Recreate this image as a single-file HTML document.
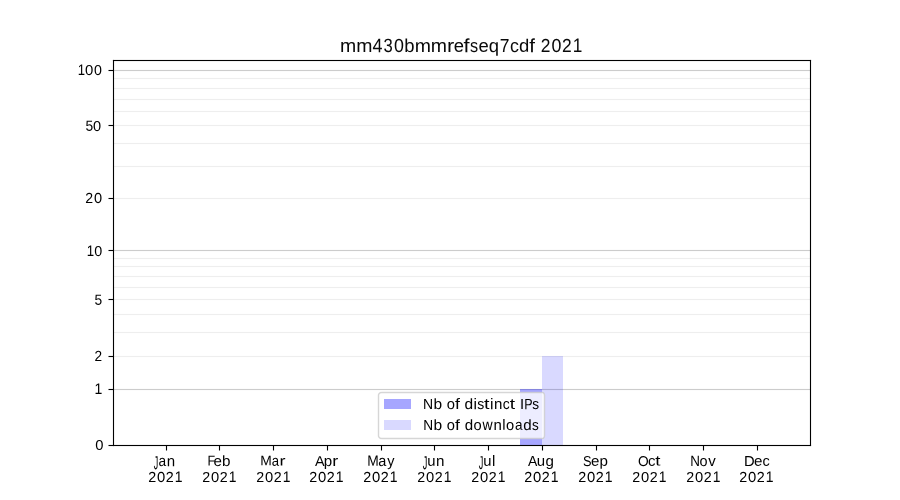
<!DOCTYPE html>
<html><head><meta charset="utf-8"><title>mm430bmmrefseq7cdf 2021</title><style>html,body{margin:0;padding:0;background:#fff;width:900px;height:500px;overflow:hidden;}svg{display:block;will-change:transform;}text{font-family:"Liberation Sans", sans-serif;fill:#000;}</style></head><body>
<svg width="900" height="500" viewBox="0 0 900 500">
<rect x="0" y="0" width="900" height="500" fill="#fff"/>
<g shape-rendering="crispEdges">
<rect x="113" y="70" width="697" height="1" fill="#ccc"/>
<rect x="113" y="69" width="697" height="1" fill="#ccc" fill-opacity="0.055"/>
<rect x="113" y="71" width="697" height="1" fill="#ccc" fill-opacity="0.055"/>
<rect x="113" y="250" width="697" height="1" fill="#ccc"/>
<rect x="113" y="249" width="697" height="1" fill="#ccc" fill-opacity="0.055"/>
<rect x="113" y="251" width="697" height="1" fill="#ccc" fill-opacity="0.055"/>
<rect x="113" y="389" width="697" height="1" fill="#ccc"/>
<rect x="113" y="388" width="697" height="1" fill="#ccc" fill-opacity="0.055"/>
<rect x="113" y="390" width="697" height="1" fill="#ccc" fill-opacity="0.055"/>
<rect x="113" y="78" width="697" height="1" fill="#eee"/>
<rect x="113" y="77" width="697" height="1" fill="#eee" fill-opacity="0.055"/>
<rect x="113" y="79" width="697" height="1" fill="#eee" fill-opacity="0.055"/>
<rect x="113" y="88" width="697" height="1" fill="#eee"/>
<rect x="113" y="87" width="697" height="1" fill="#eee" fill-opacity="0.055"/>
<rect x="113" y="89" width="697" height="1" fill="#eee" fill-opacity="0.055"/>
<rect x="113" y="99" width="697" height="1" fill="#eee"/>
<rect x="113" y="98" width="697" height="1" fill="#eee" fill-opacity="0.055"/>
<rect x="113" y="100" width="697" height="1" fill="#eee" fill-opacity="0.055"/>
<rect x="113" y="111" width="697" height="1" fill="#eee"/>
<rect x="113" y="110" width="697" height="1" fill="#eee" fill-opacity="0.055"/>
<rect x="113" y="112" width="697" height="1" fill="#eee" fill-opacity="0.055"/>
<rect x="113" y="125" width="697" height="1" fill="#eee"/>
<rect x="113" y="124" width="697" height="1" fill="#eee" fill-opacity="0.055"/>
<rect x="113" y="126" width="697" height="1" fill="#eee" fill-opacity="0.055"/>
<rect x="113" y="143" width="697" height="1" fill="#eee"/>
<rect x="113" y="142" width="697" height="1" fill="#eee" fill-opacity="0.055"/>
<rect x="113" y="144" width="697" height="1" fill="#eee" fill-opacity="0.055"/>
<rect x="113" y="166" width="697" height="1" fill="#eee"/>
<rect x="113" y="165" width="697" height="1" fill="#eee" fill-opacity="0.055"/>
<rect x="113" y="167" width="697" height="1" fill="#eee" fill-opacity="0.055"/>
<rect x="113" y="198" width="697" height="1" fill="#eee"/>
<rect x="113" y="197" width="697" height="1" fill="#eee" fill-opacity="0.055"/>
<rect x="113" y="199" width="697" height="1" fill="#eee" fill-opacity="0.055"/>
<rect x="113" y="258" width="697" height="1" fill="#eee"/>
<rect x="113" y="257" width="697" height="1" fill="#eee" fill-opacity="0.055"/>
<rect x="113" y="259" width="697" height="1" fill="#eee" fill-opacity="0.055"/>
<rect x="113" y="266" width="697" height="1" fill="#eee"/>
<rect x="113" y="265" width="697" height="1" fill="#eee" fill-opacity="0.055"/>
<rect x="113" y="267" width="697" height="1" fill="#eee" fill-opacity="0.055"/>
<rect x="113" y="276" width="697" height="1" fill="#eee"/>
<rect x="113" y="275" width="697" height="1" fill="#eee" fill-opacity="0.055"/>
<rect x="113" y="277" width="697" height="1" fill="#eee" fill-opacity="0.055"/>
<rect x="113" y="287" width="697" height="1" fill="#eee"/>
<rect x="113" y="286" width="697" height="1" fill="#eee" fill-opacity="0.055"/>
<rect x="113" y="288" width="697" height="1" fill="#eee" fill-opacity="0.055"/>
<rect x="113" y="299" width="697" height="1" fill="#eee"/>
<rect x="113" y="298" width="697" height="1" fill="#eee" fill-opacity="0.055"/>
<rect x="113" y="300" width="697" height="1" fill="#eee" fill-opacity="0.055"/>
<rect x="113" y="314" width="697" height="1" fill="#eee"/>
<rect x="113" y="313" width="697" height="1" fill="#eee" fill-opacity="0.055"/>
<rect x="113" y="315" width="697" height="1" fill="#eee" fill-opacity="0.055"/>
<rect x="113" y="332" width="697" height="1" fill="#eee"/>
<rect x="113" y="331" width="697" height="1" fill="#eee" fill-opacity="0.055"/>
<rect x="113" y="333" width="697" height="1" fill="#eee" fill-opacity="0.055"/>
<rect x="113" y="356" width="697" height="1" fill="#eee"/>
<rect x="113" y="355" width="697" height="1" fill="#eee" fill-opacity="0.055"/>
<rect x="113" y="357" width="697" height="1" fill="#eee" fill-opacity="0.055"/>
<rect x="520" y="389" width="22" height="56" fill="#00f" fill-opacity="0.35"/>
<rect x="542" y="356" width="21" height="89" fill="#00f" fill-opacity="0.15"/>
<rect x="113" y="60" width="698" height="1" fill="#000"/>
<rect x="113" y="445" width="698" height="1" fill="#000"/>
<rect x="113" y="60" width="1" height="386" fill="#000"/>
<rect x="810" y="60" width="1" height="386" fill="#000"/>
<g fill="#000" fill-opacity="0.055">
<rect x="112" y="59" width="700" height="1"/><rect x="114" y="61" width="696" height="1"/>
<rect x="114" y="444" width="696" height="1"/><rect x="112" y="446" width="700" height="1"/>
<rect x="112" y="60" width="1" height="386"/><rect x="114" y="62" width="1" height="382"/>
<rect x="809" y="62" width="1" height="382"/><rect x="811" y="60" width="1" height="386"/>
</g>
<rect x="109" y="445" width="4" height="1" fill="#000"/>
<rect x="108" y="445" width="1" height="1" fill="#000" fill-opacity="0.5"/>
<rect x="109" y="389" width="4" height="1" fill="#000"/>
<rect x="108" y="389" width="1" height="1" fill="#000" fill-opacity="0.5"/>
<rect x="109" y="388" width="3" height="1" fill="#000" fill-opacity="0.055"/>
<rect x="109" y="390" width="3" height="1" fill="#000" fill-opacity="0.055"/>
<rect x="108" y="388" width="1" height="1" fill="#000" fill-opacity="0.028"/>
<rect x="108" y="390" width="1" height="1" fill="#000" fill-opacity="0.028"/>
<rect x="109" y="356" width="4" height="1" fill="#000"/>
<rect x="108" y="356" width="1" height="1" fill="#000" fill-opacity="0.5"/>
<rect x="109" y="355" width="3" height="1" fill="#000" fill-opacity="0.055"/>
<rect x="109" y="357" width="3" height="1" fill="#000" fill-opacity="0.055"/>
<rect x="108" y="355" width="1" height="1" fill="#000" fill-opacity="0.028"/>
<rect x="108" y="357" width="1" height="1" fill="#000" fill-opacity="0.028"/>
<rect x="109" y="299" width="4" height="1" fill="#000"/>
<rect x="108" y="299" width="1" height="1" fill="#000" fill-opacity="0.5"/>
<rect x="109" y="298" width="3" height="1" fill="#000" fill-opacity="0.055"/>
<rect x="109" y="300" width="3" height="1" fill="#000" fill-opacity="0.055"/>
<rect x="108" y="298" width="1" height="1" fill="#000" fill-opacity="0.028"/>
<rect x="108" y="300" width="1" height="1" fill="#000" fill-opacity="0.028"/>
<rect x="109" y="250" width="4" height="1" fill="#000"/>
<rect x="108" y="250" width="1" height="1" fill="#000" fill-opacity="0.5"/>
<rect x="109" y="249" width="3" height="1" fill="#000" fill-opacity="0.055"/>
<rect x="109" y="251" width="3" height="1" fill="#000" fill-opacity="0.055"/>
<rect x="108" y="249" width="1" height="1" fill="#000" fill-opacity="0.028"/>
<rect x="108" y="251" width="1" height="1" fill="#000" fill-opacity="0.028"/>
<rect x="109" y="198" width="4" height="1" fill="#000"/>
<rect x="108" y="198" width="1" height="1" fill="#000" fill-opacity="0.5"/>
<rect x="109" y="197" width="3" height="1" fill="#000" fill-opacity="0.055"/>
<rect x="109" y="199" width="3" height="1" fill="#000" fill-opacity="0.055"/>
<rect x="108" y="197" width="1" height="1" fill="#000" fill-opacity="0.028"/>
<rect x="108" y="199" width="1" height="1" fill="#000" fill-opacity="0.028"/>
<rect x="109" y="125" width="4" height="1" fill="#000"/>
<rect x="108" y="125" width="1" height="1" fill="#000" fill-opacity="0.5"/>
<rect x="109" y="124" width="3" height="1" fill="#000" fill-opacity="0.055"/>
<rect x="109" y="126" width="3" height="1" fill="#000" fill-opacity="0.055"/>
<rect x="108" y="124" width="1" height="1" fill="#000" fill-opacity="0.028"/>
<rect x="108" y="126" width="1" height="1" fill="#000" fill-opacity="0.028"/>
<rect x="109" y="70" width="4" height="1" fill="#000"/>
<rect x="108" y="70" width="1" height="1" fill="#000" fill-opacity="0.5"/>
<rect x="109" y="69" width="3" height="1" fill="#000" fill-opacity="0.055"/>
<rect x="109" y="71" width="3" height="1" fill="#000" fill-opacity="0.055"/>
<rect x="108" y="69" width="1" height="1" fill="#000" fill-opacity="0.028"/>
<rect x="108" y="71" width="1" height="1" fill="#000" fill-opacity="0.028"/>
<rect x="166" y="446" width="1" height="4" fill="#000"/>
<rect x="166" y="450" width="1" height="1" fill="#000" fill-opacity="0.5"/>
<rect x="165" y="446" width="1" height="4" fill="#000" fill-opacity="0.055"/>
<rect x="167" y="446" width="1" height="4" fill="#000" fill-opacity="0.055"/>
<rect x="165" y="450" width="1" height="1" fill="#000" fill-opacity="0.028"/>
<rect x="167" y="450" width="1" height="1" fill="#000" fill-opacity="0.028"/>
<rect x="219" y="446" width="1" height="4" fill="#000"/>
<rect x="219" y="450" width="1" height="1" fill="#000" fill-opacity="0.5"/>
<rect x="218" y="446" width="1" height="4" fill="#000" fill-opacity="0.055"/>
<rect x="220" y="446" width="1" height="4" fill="#000" fill-opacity="0.055"/>
<rect x="218" y="450" width="1" height="1" fill="#000" fill-opacity="0.028"/>
<rect x="220" y="450" width="1" height="1" fill="#000" fill-opacity="0.028"/>
<rect x="273" y="446" width="1" height="4" fill="#000"/>
<rect x="273" y="450" width="1" height="1" fill="#000" fill-opacity="0.5"/>
<rect x="272" y="446" width="1" height="4" fill="#000" fill-opacity="0.055"/>
<rect x="274" y="446" width="1" height="4" fill="#000" fill-opacity="0.055"/>
<rect x="272" y="450" width="1" height="1" fill="#000" fill-opacity="0.028"/>
<rect x="274" y="450" width="1" height="1" fill="#000" fill-opacity="0.028"/>
<rect x="327" y="446" width="1" height="4" fill="#000"/>
<rect x="327" y="450" width="1" height="1" fill="#000" fill-opacity="0.5"/>
<rect x="326" y="446" width="1" height="4" fill="#000" fill-opacity="0.055"/>
<rect x="328" y="446" width="1" height="4" fill="#000" fill-opacity="0.055"/>
<rect x="326" y="450" width="1" height="1" fill="#000" fill-opacity="0.028"/>
<rect x="328" y="450" width="1" height="1" fill="#000" fill-opacity="0.028"/>
<rect x="381" y="446" width="1" height="4" fill="#000"/>
<rect x="381" y="450" width="1" height="1" fill="#000" fill-opacity="0.5"/>
<rect x="380" y="446" width="1" height="4" fill="#000" fill-opacity="0.055"/>
<rect x="382" y="446" width="1" height="4" fill="#000" fill-opacity="0.055"/>
<rect x="380" y="450" width="1" height="1" fill="#000" fill-opacity="0.028"/>
<rect x="382" y="450" width="1" height="1" fill="#000" fill-opacity="0.028"/>
<rect x="434" y="446" width="1" height="4" fill="#000"/>
<rect x="434" y="450" width="1" height="1" fill="#000" fill-opacity="0.5"/>
<rect x="433" y="446" width="1" height="4" fill="#000" fill-opacity="0.055"/>
<rect x="435" y="446" width="1" height="4" fill="#000" fill-opacity="0.055"/>
<rect x="433" y="450" width="1" height="1" fill="#000" fill-opacity="0.028"/>
<rect x="435" y="450" width="1" height="1" fill="#000" fill-opacity="0.028"/>
<rect x="488" y="446" width="1" height="4" fill="#000"/>
<rect x="488" y="450" width="1" height="1" fill="#000" fill-opacity="0.5"/>
<rect x="487" y="446" width="1" height="4" fill="#000" fill-opacity="0.055"/>
<rect x="489" y="446" width="1" height="4" fill="#000" fill-opacity="0.055"/>
<rect x="487" y="450" width="1" height="1" fill="#000" fill-opacity="0.028"/>
<rect x="489" y="450" width="1" height="1" fill="#000" fill-opacity="0.028"/>
<rect x="542" y="446" width="1" height="4" fill="#000"/>
<rect x="542" y="450" width="1" height="1" fill="#000" fill-opacity="0.5"/>
<rect x="541" y="446" width="1" height="4" fill="#000" fill-opacity="0.055"/>
<rect x="543" y="446" width="1" height="4" fill="#000" fill-opacity="0.055"/>
<rect x="541" y="450" width="1" height="1" fill="#000" fill-opacity="0.028"/>
<rect x="543" y="450" width="1" height="1" fill="#000" fill-opacity="0.028"/>
<rect x="596" y="446" width="1" height="4" fill="#000"/>
<rect x="596" y="450" width="1" height="1" fill="#000" fill-opacity="0.5"/>
<rect x="595" y="446" width="1" height="4" fill="#000" fill-opacity="0.055"/>
<rect x="597" y="446" width="1" height="4" fill="#000" fill-opacity="0.055"/>
<rect x="595" y="450" width="1" height="1" fill="#000" fill-opacity="0.028"/>
<rect x="597" y="450" width="1" height="1" fill="#000" fill-opacity="0.028"/>
<rect x="649" y="446" width="1" height="4" fill="#000"/>
<rect x="649" y="450" width="1" height="1" fill="#000" fill-opacity="0.5"/>
<rect x="648" y="446" width="1" height="4" fill="#000" fill-opacity="0.055"/>
<rect x="650" y="446" width="1" height="4" fill="#000" fill-opacity="0.055"/>
<rect x="648" y="450" width="1" height="1" fill="#000" fill-opacity="0.028"/>
<rect x="650" y="450" width="1" height="1" fill="#000" fill-opacity="0.028"/>
<rect x="703" y="446" width="1" height="4" fill="#000"/>
<rect x="703" y="450" width="1" height="1" fill="#000" fill-opacity="0.5"/>
<rect x="702" y="446" width="1" height="4" fill="#000" fill-opacity="0.055"/>
<rect x="704" y="446" width="1" height="4" fill="#000" fill-opacity="0.055"/>
<rect x="702" y="450" width="1" height="1" fill="#000" fill-opacity="0.028"/>
<rect x="704" y="450" width="1" height="1" fill="#000" fill-opacity="0.028"/>
<rect x="757" y="446" width="1" height="4" fill="#000"/>
<rect x="757" y="450" width="1" height="1" fill="#000" fill-opacity="0.5"/>
<rect x="756" y="446" width="1" height="4" fill="#000" fill-opacity="0.055"/>
<rect x="758" y="446" width="1" height="4" fill="#000" fill-opacity="0.055"/>
<rect x="756" y="450" width="1" height="1" fill="#000" fill-opacity="0.028"/>
<rect x="758" y="450" width="1" height="1" fill="#000" fill-opacity="0.028"/>
</g>
<rect x="378.5" y="392.5" width="166" height="46" rx="2.78" ry="2.78" fill="#fff" fill-opacity="0.8" stroke="#ccc" stroke-opacity="0.8" stroke-width="1.39"/>
<g shape-rendering="crispEdges"><rect x="384" y="399" width="27" height="10" fill="#00f" fill-opacity="0.35"/>
<rect x="384" y="420" width="27" height="10" fill="#00f" fill-opacity="0.15"/></g>
<g shape-rendering="crispEdges">
<rect x="112" y="59" width="1" height="1" fill="#fdfdfd"/>
<rect x="113" y="59" width="1" height="1" fill="#e3e3e3"/>
<rect x="810" y="59" width="1" height="1" fill="#e3e3e3"/>
<rect x="811" y="59" width="1" height="1" fill="#fdfdfd"/>
<rect x="112" y="60" width="1" height="1" fill="#e3e3e3"/>
<rect x="811" y="60" width="1" height="1" fill="#e3e3e3"/>
<rect x="114" y="61" width="1" height="1" fill="#e3e3e3"/>
<rect x="809" y="61" width="1" height="1" fill="#e3e3e3"/>
<rect x="112" y="69" width="1" height="1" fill="#e3e3e3"/>
<rect x="112" y="71" width="1" height="1" fill="#e3e3e3"/>
<rect x="112" y="124" width="1" height="1" fill="#e3e3e3"/>
<rect x="112" y="126" width="1" height="1" fill="#e3e3e3"/>
<rect x="112" y="197" width="1" height="1" fill="#e3e3e3"/>
<rect x="112" y="199" width="1" height="1" fill="#e3e3e3"/>
<rect x="112" y="249" width="1" height="1" fill="#e3e3e3"/>
<rect x="112" y="251" width="1" height="1" fill="#e3e3e3"/>
<rect x="112" y="298" width="1" height="1" fill="#e3e3e3"/>
<rect x="112" y="300" width="1" height="1" fill="#e3e3e3"/>
<rect x="112" y="355" width="1" height="1" fill="#e3e3e3"/>
<rect x="112" y="357" width="1" height="1" fill="#e3e3e3"/>
<rect x="112" y="388" width="1" height="1" fill="#e3e3e3"/>
<rect x="112" y="390" width="1" height="1" fill="#e3e3e3"/>
<rect x="381" y="391" width="1" height="1" fill="#f7f7f7"/>
<rect x="541" y="391" width="1" height="1" fill="#ababf7"/>
<rect x="542" y="391" width="1" height="1" fill="#d7d7f7"/>
<rect x="378" y="392" width="1" height="1" fill="#fefefe"/>
<rect x="379" y="392" width="1" height="1" fill="#e6e6e6"/>
<rect x="544" y="392" width="1" height="1" fill="#d7d7f9"/>
<rect x="378" y="393" width="1" height="1" fill="#e6e6e6"/>
<rect x="379" y="393" width="1" height="1" fill="#d6d6d6"/>
<rect x="541" y="393" width="1" height="1" fill="#e6e6f7"/>
<rect x="542" y="393" width="1" height="1" fill="#eeeef5"/>
<rect x="544" y="393" width="1" height="1" fill="#d1d1e0"/>
<rect x="543" y="394" width="1" height="1" fill="#ebebf0"/>
<rect x="543" y="436" width="1" height="1" fill="#ebebf0"/>
<rect x="378" y="437" width="1" height="1" fill="#e6e6e6"/>
<rect x="379" y="437" width="1" height="1" fill="#d6d6d6"/>
<rect x="541" y="437" width="1" height="1" fill="#e6e6f7"/>
<rect x="542" y="437" width="1" height="1" fill="#eeeef5"/>
<rect x="378" y="438" width="1" height="1" fill="#fefefe"/>
<rect x="379" y="438" width="1" height="1" fill="#e6e6e6"/>
<rect x="543" y="438" width="1" height="1" fill="#d0d0d8"/>
<rect x="381" y="439" width="1" height="1" fill="#f7f7f7"/>
<rect x="541" y="439" width="1" height="1" fill="#ababf7"/>
<rect x="542" y="439" width="1" height="1" fill="#d7d7f7"/>
<rect x="108" y="444" width="1" height="1" fill="#f8f8f8"/>
<rect x="109" y="444" width="1" height="1" fill="#f1f1f1"/>
<rect x="110" y="444" width="1" height="1" fill="#f1f1f1"/>
<rect x="111" y="444" width="1" height="1" fill="#f1f1f1"/>
<rect x="112" y="444" width="1" height="1" fill="#e2e2e2"/>
<rect x="114" y="444" width="1" height="1" fill="#e3e3e3"/>
<rect x="809" y="444" width="1" height="1" fill="#e3e3e3"/>
<rect x="811" y="445" width="1" height="1" fill="#e3e3e3"/>
<rect x="108" y="446" width="1" height="1" fill="#f8f8f8"/>
<rect x="109" y="446" width="1" height="1" fill="#f1f1f1"/>
<rect x="110" y="446" width="1" height="1" fill="#f1f1f1"/>
<rect x="111" y="446" width="1" height="1" fill="#f1f1f1"/>
<rect x="113" y="446" width="1" height="1" fill="#dddddd"/>
<rect x="810" y="446" width="1" height="1" fill="#e3e3e3"/>
<rect x="811" y="446" width="1" height="1" fill="#fdfdfd"/>
</g>
<g aria-label="mm430bmmrefseq7cdf 2021">
<text font-size="16.67" style="fill:#090909" transform="matrix(1.16845 0.001 0 1.12968 340.056 51.979)">m</text>
<text font-size="16.67" style="fill:#090909" transform="matrix(1.16845 0.001 0 1.12968 356.306 51.979)">m</text>
<text font-size="16.67" style="fill:#090909" transform="matrix(1.07427 0.001 0 1.17487 372.493 52.229)">4</text>
<text font-size="16.67" style="fill:#090909" transform="matrix(0.99754 0.001 0 1.14775 383.574 51.879)">3</text>
<text font-size="16.67" style="fill:#090909" transform="matrix(1.07018 0.001 0 1.12968 393.963 51.979)">0</text>
<text font-size="16.67" style="fill:#090909" transform="matrix(1.10983 0.001 0 1.12968 404.345 51.979)">b</text>
<text font-size="16.67" style="fill:#090909" transform="matrix(1.16845 0.001 0 1.10257 414.681 51.979)">m</text>
<text font-size="16.67" style="fill:#090909" transform="matrix(1.16845 0.001 0 1.12968 430.681 51.979)">m</text>
<text font-size="16.67" style="fill:#090909" transform="matrix(1.30534 0.001 0 1.12968 446.876 51.979)">r</text>
<text font-size="16.67" style="fill:#090909" transform="matrix(1.10659 0.001 0 1.08449 453.625 51.679)">e</text>
<text font-size="16.67" style="fill:#090909" transform="matrix(1.30626 0.001 0 1.15679 463.622 52.229)">f</text>
<text font-size="16.67" style="fill:#090909" transform="matrix(0.97734 0.001 0 1.12968 469.911 51.979)">s</text>
<text font-size="16.67" style="fill:#090909" transform="matrix(1.10659 0.001 0 1.08449 478.500 51.679)">e</text>
<text font-size="16.67" style="fill:#090909" transform="matrix(1.10863 0.001 0 1.10257 488.761 51.979)">q</text>
<text font-size="16.67" style="fill:#090909" transform="matrix(1.04724 0.001 0 1.12968 499.647 51.979)">7</text>
<text font-size="16.67" style="fill:#090909" transform="matrix(1.07523 0.001 0 1.12968 510.073 51.979)">c</text>
<text font-size="16.67" style="fill:#090909" transform="matrix(1.10983 0.001 0 1.07545 518.885 51.729)">d</text>
<text font-size="16.67" style="fill:#090909" transform="matrix(1.23893 0.001 0 1.15679 529.272 52.229)">f</text>
<text font-size="16.67" style="fill:#090909" transform="matrix(1.04500 0.001 0 1.12968 540.791 51.979)">2</text>
<text font-size="16.67" style="fill:#090909" transform="matrix(1.07018 0.001 0 1.12968 551.463 51.979)">0</text>
<text font-size="16.67" style="fill:#090909" transform="matrix(1.04500 0.001 0 1.12968 561.916 51.979)">2</text>
<text font-size="16.67" style="fill:#090909" transform="matrix(1.03293 0.001 0 1.17487 572.736 51.879)">1</text>
</g>
<g aria-label="0">
<text font-size="13.89" transform="matrix(1.06389 0.001 0 1.00098 95.243 449.640)">0</text>
</g>
<g aria-label="1">
<text font-size="13.89" transform="matrix(1.01232 0.001 0 1.11205 94.482 393.989)">1</text>
</g>
<g aria-label="2">
<text font-size="13.89" transform="matrix(0.98328 0.001 0 1.05273 94.539 360.936)">2</text>
</g>
<g aria-label="5">
<text font-size="13.89" transform="matrix(0.99270 0.001 0 1.05710 94.535 304.667)">5</text>
</g>
<g aria-label="10">
<text font-size="13.89" transform="matrix(0.95309 0.001 0 1.11318 86.644 255.931)">1</text>
<text font-size="13.89" transform="matrix(1.03547 0.001 0 1.02755 94.335 255.931)">0</text>
</g>
<g aria-label="20">
<text font-size="13.89" transform="matrix(1.01616 0.001 0 1.04870 85.132 202.894)">2</text>
<text font-size="13.89" transform="matrix(1.05386 0.001 0 1.04870 93.893 202.894)">0</text>
</g>
<g aria-label="50">
<text font-size="13.89" transform="matrix(0.99428 0.001 0 1.05950 85.569 130.763)">5</text>
<text font-size="13.89" transform="matrix(1.05253 0.001 0 1.03407 93.112 131.013)">0</text>
</g>
<g aria-label="100">
<text font-size="13.89" transform="matrix(0.94509 0.001 0 1.10327 77.646 74.972)">1</text>
<text font-size="13.89" transform="matrix(1.07498 0.001 0 1.03691 85.034 74.922)">0</text>
<text font-size="13.89" transform="matrix(1.02521 0.001 0 1.03691 94.084 74.922)">0</text>
</g>
<g aria-label="Jan">
<text font-size="13.89" transform="matrix(0.64833 0.001 0 1.35860 153.667 469.244)">J</text>
<text font-size="13.89" transform="matrix(0.98743 0.001 0 1.10816 158.593 466.094)">a</text>
<text font-size="13.89" transform="matrix(1.08781 0.001 0 1.10816 166.688 466.344)">n</text>
</g>
<g aria-label="2021">
<text font-size="13.89" transform="matrix(1.03164 0.001 0 1.04626 148.257 481.910)">2</text>
<text font-size="13.89" transform="matrix(1.06991 0.001 0 1.04626 157.016 482.060)">0</text>
<text font-size="13.89" transform="matrix(1.03164 0.001 0 1.04626 165.757 482.060)">2</text>
<text font-size="13.89" transform="matrix(1.00552 0.001 0 1.11322 174.697 482.060)">1</text>
</g>
<g aria-label="Feb">
<text font-size="13.89" transform="matrix(0.90540 0.001 0 1.02717 207.409 465.395)">F</text>
<text font-size="13.89" transform="matrix(1.08983 0.001 0 1.06997 213.460 465.945)">e</text>
<text font-size="13.89" transform="matrix(1.09690 0.001 0 1.06997 222.022 466.095)">b</text>
</g>
<g aria-label="2021">
<text font-size="13.89" transform="matrix(1.02358 0.001 0 1.04375 202.291 482.059)">2</text>
<text font-size="13.89" transform="matrix(1.06155 0.001 0 1.04375 211.050 482.059)">0</text>
<text font-size="13.89" transform="matrix(1.02358 0.001 0 1.04375 219.791 482.059)">2</text>
<text font-size="13.89" transform="matrix(0.99766 0.001 0 1.11055 228.732 481.959)">1</text>
</g>
<g aria-label="Mar">
<text font-size="13.89" transform="matrix(0.99552 0.001 0 0.98673 260.130 465.234)">M</text>
<text font-size="13.89" transform="matrix(0.94737 0.001 0 1.06895 271.732 465.734)">a</text>
<text font-size="13.89" transform="matrix(1.29590 0.001 0 1.00317 279.569 465.484)">r</text>
</g>
<g aria-label="2021">
<text font-size="13.89" transform="matrix(1.02358 0.001 0 1.04375 256.291 482.059)">2</text>
<text font-size="13.89" transform="matrix(1.06155 0.001 0 1.04375 265.050 482.059)">0</text>
<text font-size="13.89" transform="matrix(1.02358 0.001 0 1.04375 273.791 482.059)">2</text>
<text font-size="13.89" transform="matrix(0.99766 0.001 0 1.11055 282.732 481.959)">1</text>
</g>
<g aria-label="Apr">
<text font-size="13.89" style="fill:#030303" transform="matrix(1.03619 0.001 0 1.03047 315.011 466.068)">A</text>
<text font-size="13.89" style="fill:#030303" transform="matrix(1.09062 0.001 0 1.08243 323.853 465.918)">p</text>
<text font-size="13.89" style="fill:#030303" transform="matrix(1.29590 0.001 0 1.08243 332.259 465.918)">r</text>
</g>
<g aria-label="2021">
<text font-size="13.89" transform="matrix(1.03164 0.001 0 1.04626 309.257 481.910)">2</text>
<text font-size="13.89" transform="matrix(1.06991 0.001 0 1.04626 318.016 481.910)">0</text>
<text font-size="13.89" transform="matrix(1.03164 0.001 0 1.04626 326.757 481.910)">2</text>
<text font-size="13.89" transform="matrix(1.00552 0.001 0 1.11322 335.697 481.910)">1</text>
</g>
<g aria-label="May">
<text font-size="13.89" transform="matrix(0.99552 0.001 0 1.07428 367.290 465.845)">M</text>
<text font-size="13.89" transform="matrix(1.04662 0.001 0 1.10007 378.292 465.995)">a</text>
<text font-size="13.89" transform="matrix(1.04139 0.001 0 1.10007 387.125 466.095)">y</text>
</g>
<g aria-label="2021">
<text font-size="13.89" transform="matrix(1.03164 0.001 0 1.04626 363.257 482.114)">2</text>
<text font-size="13.89" transform="matrix(1.06991 0.001 0 1.04626 372.016 482.114)">0</text>
<text font-size="13.89" transform="matrix(1.03164 0.001 0 1.04626 380.757 482.114)">2</text>
<text font-size="13.89" transform="matrix(1.00552 0.001 0 1.11322 389.697 482.114)">1</text>
</g>
<g aria-label="Jun">
<text font-size="13.89" transform="matrix(0.66004 0.001 0 1.36203 422.667 469.314)">J</text>
<text font-size="13.89" transform="matrix(1.06876 0.001 0 1.05584 427.236 465.864)">u</text>
<text font-size="13.89" transform="matrix(1.09126 0.001 0 1.08118 435.938 466.114)">n</text>
</g>
<g aria-label="2021">
<text font-size="13.89" transform="matrix(1.02358 0.001 0 1.04375 417.141 482.059)">2</text>
<text font-size="13.89" transform="matrix(1.06155 0.001 0 1.04375 426.050 482.059)">0</text>
<text font-size="13.89" transform="matrix(1.02358 0.001 0 1.04375 434.791 482.059)">2</text>
<text font-size="13.89" transform="matrix(0.99766 0.001 0 1.11055 443.732 481.959)">1</text>
</g>
<g aria-label="Jul">
<text font-size="13.89" transform="matrix(0.65914 0.001 0 1.34216 478.795 469.064)">J</text>
<text font-size="13.89" transform="matrix(1.06382 0.001 0 1.06016 483.297 465.864)">u</text>
<text font-size="13.89" transform="matrix(1.09036 0.001 0 1.10257 491.952 466.114)">l</text>
</g>
<g aria-label="2021">
<text font-size="13.89" transform="matrix(1.02358 0.001 0 1.04375 471.291 482.059)">2</text>
<text font-size="13.89" transform="matrix(1.06155 0.001 0 1.04375 480.050 482.059)">0</text>
<text font-size="13.89" transform="matrix(1.02358 0.001 0 1.04375 488.791 482.059)">2</text>
<text font-size="13.89" transform="matrix(0.99766 0.001 0 1.11055 497.732 481.959)">1</text>
</g>
<g aria-label="Aug">
<text font-size="13.89" transform="matrix(1.00601 0.001 0 1.04890 528.107 466.064)">A</text>
<text font-size="13.89" transform="matrix(1.08041 0.001 0 1.07368 536.826 465.814)">u</text>
<text font-size="13.89" transform="matrix(1.09062 0.001 0 1.07368 545.539 465.964)">g</text>
</g>
<g aria-label="2021">
<text font-size="13.89" transform="matrix(1.03164 0.001 0 1.04626 524.257 482.060)">2</text>
<text font-size="13.89" transform="matrix(1.06991 0.001 0 1.04626 533.016 482.060)">0</text>
<text font-size="13.89" transform="matrix(1.03164 0.001 0 1.04626 541.757 481.910)">2</text>
<text font-size="13.89" transform="matrix(1.00552 0.001 0 1.11322 550.697 482.060)">1</text>
</g>
<g aria-label="Sep">
<text font-size="13.89" transform="matrix(0.91777 0.001 0 1.03432 582.982 465.900)">S</text>
<text font-size="13.89" transform="matrix(1.08358 0.001 0 1.03432 591.080 465.650)">e</text>
<text font-size="13.89" transform="matrix(1.09062 0.001 0 1.03432 599.593 465.650)">p</text>
</g>
<g aria-label="2021">
<text font-size="13.89" transform="matrix(1.03164 0.001 0 1.04626 578.257 481.910)">2</text>
<text font-size="13.89" transform="matrix(1.06991 0.001 0 1.04626 587.016 481.910)">0</text>
<text font-size="13.89" transform="matrix(1.03164 0.001 0 1.04626 595.757 481.910)">2</text>
<text font-size="13.89" transform="matrix(1.00552 0.001 0 1.11322 604.697 481.910)">1</text>
</g>
<g aria-label="Oct">
<text font-size="13.89" transform="matrix(0.98939 0.001 0 1.02416 637.893 466.114)">O</text>
<text font-size="13.89" transform="matrix(1.07270 0.001 0 1.04874 648.079 465.864)">c</text>
<text font-size="13.89" transform="matrix(1.33998 0.001 0 1.02416 655.289 465.464)">t</text>
</g>
<g aria-label="2021">
<text font-size="13.89" transform="matrix(1.02358 0.001 0 1.04375 632.291 482.059)">2</text>
<text font-size="13.89" transform="matrix(1.06155 0.001 0 1.04375 641.050 482.059)">0</text>
<text font-size="13.89" transform="matrix(1.02358 0.001 0 1.04375 649.791 482.059)">2</text>
<text font-size="13.89" transform="matrix(0.99766 0.001 0 1.11055 658.732 481.959)">1</text>
</g>
<g aria-label="Nov">
<text font-size="13.89" transform="matrix(0.96702 0.001 0 1.07320 690.240 466.031)">N</text>
<text font-size="13.89" transform="matrix(1.04088 0.001 0 1.07320 699.379 466.031)">o</text>
<text font-size="13.89" transform="matrix(1.08060 0.001 0 1.09896 708.211 466.031)">v</text>
</g>
<g aria-label="2021">
<text font-size="13.89" transform="matrix(1.02358 0.001 0 1.04375 686.291 482.059)">2</text>
<text font-size="13.89" transform="matrix(1.06155 0.001 0 1.04375 695.050 482.059)">0</text>
<text font-size="13.89" transform="matrix(1.02358 0.001 0 1.04375 703.791 482.059)">2</text>
<text font-size="13.89" transform="matrix(0.99766 0.001 0 1.11055 712.732 481.959)">1</text>
</g>
<g aria-label="Dec">
<text font-size="13.89" transform="matrix(1.06297 0.001 0 1.03925 743.876 466.098)">D</text>
<text font-size="13.89" transform="matrix(1.09295 0.001 0 1.03925 754.050 465.848)">e</text>
<text font-size="13.89" transform="matrix(1.04086 0.001 0 1.03925 762.453 465.848)">c</text>
</g>
<g aria-label="2021">
<text font-size="13.89" transform="matrix(1.03164 0.001 0 1.04626 739.257 482.060)">2</text>
<text font-size="13.89" transform="matrix(1.06991 0.001 0 1.04626 748.016 482.060)">0</text>
<text font-size="13.89" transform="matrix(1.03164 0.001 0 1.04626 756.757 482.060)">2</text>
<text font-size="13.89" transform="matrix(1.00552 0.001 0 1.11322 765.697 482.060)">1</text>
</g>
<g aria-label="Nb of distinct IPs">
<text font-size="13.89" style="fill:#010101" transform="matrix(1.00790 0.001 0 1.03612 423.071 409.103)">N</text>
<text font-size="13.89" style="fill:#010101" transform="matrix(1.11854 0.001 0 1.07929 433.479 409.103)">b</text>
<text font-size="13.89" style="fill:#010101" transform="matrix(1.06318 0.001 0 1.07929 446.846 409.103)">o</text>
<text font-size="13.89" style="fill:#010101" transform="matrix(1.27321 0.001 0 1.10520 455.117 409.103)">f</text>
<text font-size="13.89" style="fill:#010101" transform="matrix(1.11854 0.001 0 1.07929 464.453 409.103)">d</text>
<text font-size="13.89" style="fill:#010101" transform="matrix(1.12469 0.001 0 1.12246 473.526 409.253)">i</text>
<text font-size="13.89" style="fill:#010101" transform="matrix(1.01108 0.001 0 1.07929 477.142 409.103)">s</text>
<text font-size="13.89" style="fill:#010101" transform="matrix(1.41460 0.001 0 1.07929 484.093 409.103)">t</text>
<text font-size="13.89" style="fill:#010101" transform="matrix(1.13572 0.001 0 1.12246 490.026 409.253)">i</text>
<text font-size="13.89" style="fill:#010101" transform="matrix(1.08591 0.001 0 1.07929 494.088 409.103)">n</text>
<text font-size="13.89" style="fill:#010101" transform="matrix(0.99671 0.001 0 1.07929 502.759 409.103)">c</text>
<text font-size="13.89" style="fill:#010101" transform="matrix(1.37340 0.001 0 1.07929 509.843 409.103)">t</text>
<text font-size="13.89" style="fill:#010101" transform="matrix(1.07031 0.001 0 1.05339 519.968 409.053)">I</text>
<text font-size="13.89" style="fill:#010101" transform="matrix(0.90176 0.001 0 1.07929 524.206 409.353)">P</text>
<text font-size="13.89" style="fill:#010101" transform="matrix(0.98163 0.001 0 1.07929 532.317 409.103)">s</text>
</g>
<g aria-label="Nb of downloads">
<text font-size="13.89" transform="matrix(0.98275 0.001 0 1.05565 423.284 430.032)">N</text>
<text font-size="13.89" transform="matrix(1.12334 0.001 0 1.08160 433.428 430.032)">b</text>
<text font-size="13.89" transform="matrix(1.05780 0.001 0 1.08160 446.787 430.032)">o</text>
<text font-size="13.89" transform="matrix(1.26757 0.001 0 1.08160 455.022 430.032)">f</text>
<text font-size="13.89" transform="matrix(1.09062 0.001 0 1.08160 464.643 430.032)">d</text>
<text font-size="13.89" transform="matrix(1.05780 0.001 0 1.08160 473.537 430.032)">o</text>
<text font-size="13.89" transform="matrix(1.01015 0.001 0 1.12487 482.503 430.032)">w</text>
<text font-size="13.89" transform="matrix(1.08041 0.001 0 1.08160 493.533 430.032)">n</text>
<text font-size="13.89" transform="matrix(1.07511 0.001 0 1.08160 502.273 429.782)">l</text>
<text font-size="13.89" transform="matrix(1.05780 0.001 0 1.08160 506.037 430.032)">o</text>
<text font-size="13.89" transform="matrix(0.97444 0.001 0 1.06430 514.997 429.782)">a</text>
<text font-size="13.89" transform="matrix(1.09062 0.001 0 1.08160 523.143 430.032)">d</text>
<text font-size="13.89" transform="matrix(0.97627 0.001 0 1.08160 531.987 430.032)">s</text>
</g>
</svg></body></html>
